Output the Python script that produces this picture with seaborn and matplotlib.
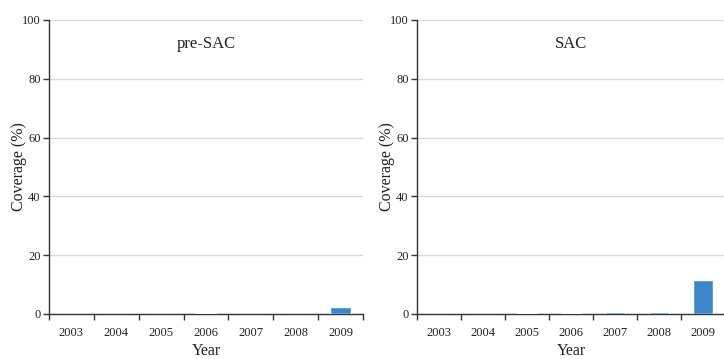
import numpy as np
import pandas as pd
import seaborn as sns
import matplotlib.pyplot as plt

# Data
years = ['2003', '2004', '2005', '2006', '2007', '2008', '2009']
pre_sac = [0.0, 0.0, 0.0, 0.4, 0.0, 0.0, 2.4]
sac = [0.0, 0.0, 0.3, 0.3, 0.6, 0.6, 11.7]
panel_titles = ['pre-SAC', 'SAC']

sns.set_style('white')
plt.rcParams['font.family'] = ['Liberation Serif', 'DejaVu Serif']

bar_color = '#3B87C9'
fig = plt.figure(figsize=(7.24, 3.59), dpi=100)
ax_left = fig.add_axes([49 / 724, 45 / 359, 314 / 724, 294 / 359])
ax_right = fig.add_axes([417 / 724, 45 / 359, 308 / 724, 294 / 359])

for ax, vals, title in zip([ax_left, ax_right], [pre_sac, sac], panel_titles):
    df = pd.DataFrame({'Year': years, 'Coverage': vals})
    sns.barplot(data=df, x='Year', y='Coverage', color=bar_color,
                width=0.45, saturation=1, ax=ax, zorder=3)
    ax.set_xlim(-0.5, 6.5)
    ax.set_ylim(0, 100)
    ax.set_yticks([0, 20, 40, 60, 80, 100])
    ax.yaxis.grid(True, color='#d9d9d9', linewidth=1.0, zorder=0)
    ax.set_axisbelow(True)
    # x ticks sit between categories, labels centered under bars
    ax.set_xticks(np.arange(-0.5, 7.0, 1.0))
    ax.set_xticklabels([])
    ax.set_xticks(np.arange(len(years)), minor=True)
    ax.set_xticklabels(years, minor=True)
    ax.tick_params(axis='x', which='major', bottom=True, length=4, width=1,
                   color='#333333', direction='out')
    ax.tick_params(axis='x', which='minor', bottom=True, length=0, pad=9,
                   labelsize=9, labelcolor='#222222')
    ax.tick_params(axis='y', left=True, length=4, width=1, color='#333333',
                   direction='out', labelsize=9, labelcolor='#222222', pad=2)
    for side in ['top', 'right']:
        ax.spines[side].set_visible(False)
    for side in ['left', 'bottom']:
        ax.spines[side].set_color('#333333')
        ax.spines[side].set_linewidth(1.0)
    ax.set_xlabel('Year', fontsize=11.5, color='#222222', labelpad=3)
    ax.set_ylabel('Coverage (%)', fontsize=11.5, color='#222222', labelpad=-3.5)
    ax.text(0.5, 0.918, title, transform=ax.transAxes,
            ha='center', va='center', fontsize=12, color='#222222')

fig.savefig('out.png', dpi=100)
